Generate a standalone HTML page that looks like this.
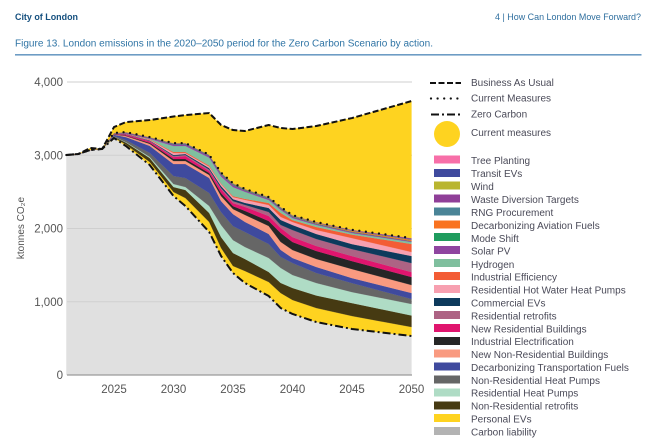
<!DOCTYPE html>
<html lang="en">
<head>
<meta charset="utf-8">
<title>Figure 13. London emissions</title>
<style>
html,body{margin:0;padding:0;background:#fff;width:645px;height:446px;overflow:hidden}
svg{display:block}
text{font-family:"Liberation Sans",sans-serif}
.lg{font-size:10px;fill:#4a4a58}
.ax{font-size:11.5px;fill:#555}
</style>
</head>
<body>
<svg id="chart" width="645" height="446" viewBox="0 0 645 446" xmlns="http://www.w3.org/2000/svg">
<rect width="645" height="446" fill="#fff"/>
<text x="15" y="20" font-size="9.5" font-weight="bold" fill="#15507f" textLength="63" lengthAdjust="spacingAndGlyphs">City of London</text>
<text x="641" y="20" font-size="9.5" fill="#2f6f9f" text-anchor="end" textLength="146" lengthAdjust="spacingAndGlyphs">4 | How Can London Move Forward?</text>
<text x="15" y="46.5" font-size="10" fill="#2f74a5" textLength="418" lengthAdjust="spacingAndGlyphs">Figure 13. London emissions in the 2020–2050 period for the Zero Carbon Scenario by action.</text>
<rect x="15" y="54" width="626.5" height="1.6" fill="#6d9cc4"/>

<g id="plot"></g>

<text transform="translate(24,228) rotate(-90)" text-anchor="middle" style="font-size:10px;fill:#555">ktonnes CO₂e</text>

<g>
<line x1="430" x2="461" y1="83" y2="83" stroke="#111" stroke-width="2" stroke-dasharray="6 2.5"/>
<text class="lg" x="471" y="86">Business As Usual</text>
<line x1="431" x2="461" y1="98.5" y2="98.5" stroke="#111" stroke-width="2.3" stroke-linecap="round" stroke-dasharray="0 6.6"/>
<text class="lg" x="471" y="101.5">Current Measures</text>
<line x1="431" x2="461" y1="114.5" y2="114.5" stroke="#111" stroke-width="2" stroke-dasharray="8 3 2 3"/>
<text class="lg" x="471" y="117.5">Zero Carbon</text>
<circle cx="447" cy="134" r="13" fill="#fed320"/>
<text class="lg" x="471" y="136">Current measures</text>

<rect x="434" y="155.5" width="26" height="8" fill="#f76fa8"/>
<text class="lg" x="471" y="164">Tree Planting</text>
<rect x="434" y="169" width="26" height="8" fill="#3f4a9e"/>
<text class="lg" x="471" y="177">Transit EVs</text>
<rect x="434" y="181.5" width="26" height="8" fill="#b9b52f"/>
<text class="lg" x="471" y="190">Wind</text>
<rect x="434" y="194.5" width="26" height="8" fill="#8f3f98"/>
<text class="lg" x="471" y="203">Waste Diversion Targets</text>
<rect x="434" y="207.5" width="26" height="8" fill="#4a8497"/>
<text class="lg" x="471" y="216">RNG Procurement</text>
<rect x="434" y="220.5" width="26" height="8" fill="#f97320"/>
<text class="lg" x="471" y="229">Decarbonizing Aviation Fuels</text>
<rect x="434" y="233" width="26" height="8" fill="#1f9c5e"/>
<text class="lg" x="471" y="242">Mode Shift</text>
<rect x="434" y="246" width="26" height="8" fill="#8f45a0"/>
<text class="lg" x="471" y="254.5">Solar PV</text>
<rect x="434" y="259" width="26" height="8" fill="#7fbf9e"/>
<text class="lg" x="471" y="268">Hydrogen</text>
<rect x="434" y="272" width="26" height="8" fill="#f35c35"/>
<text class="lg" x="471" y="280.5">Industrial Efficiency</text>
<rect x="434" y="285" width="26" height="8" fill="#f7a0b0"/>
<text class="lg" x="471" y="293.5">Residential Hot Water Heat Pumps</text>
<rect x="434" y="298" width="26" height="8" fill="#0d3a5c"/>
<text class="lg" x="471" y="306.5">Commercial EVs</text>
<rect x="434" y="311" width="26" height="8" fill="#ad6384"/>
<text class="lg" x="471" y="319.5">Residential retrofits</text>
<rect x="434" y="324" width="26" height="8" fill="#e0156e"/>
<text class="lg" x="471" y="332.5">New Residential Buildings</text>
<rect x="434" y="337" width="26" height="8" fill="#262626"/>
<text class="lg" x="471" y="345">Industrial Electrification</text>
<rect x="434" y="349.5" width="26" height="8" fill="#f99a80"/>
<text class="lg" x="471" y="358">New Non-Residential Buildings</text>
<rect x="434" y="362.5" width="26" height="8" fill="#3f4a9e"/>
<text class="lg" x="471" y="371">Decarbonizing Transportation Fuels</text>
<rect x="434" y="375.5" width="26" height="8" fill="#666"/>
<text class="lg" x="471" y="384">Non-Residential Heat Pumps</text>
<rect x="434" y="388.5" width="26" height="8" fill="#afdcc5"/>
<text class="lg" x="471" y="396.5">Residential Heat Pumps</text>
<rect x="434" y="401.5" width="26" height="8" fill="#463a12"/>
<text class="lg" x="471" y="409.5">Non-Residential retrofits</text>
<rect x="434" y="414" width="26" height="8" fill="#fed320"/>
<text class="lg" x="471" y="422.5">Personal EVs</text>
<rect x="434" y="427" width="26" height="8" fill="#b3b3b3"/>
<text class="lg" x="471" y="435.5">Carbon liability</text>
</g>
</svg>
<script>
const years = [2021,2022,2023,2024,2025,2026,2028,2030,2031,2033,2034,2035,2036,2038,2039,2040,2042,2045,2050];
const xTicks = [2025,2030,2035,2040,2045,2050];
const yTicks = [0,1000,2000,3000,4000];
const yTickLabels = ['0','1,000','2,000','3,000','4,000'];
const businessAsUsual = [3003,3017,3099,3085,3385,3453,3481,3529,3549,3576,3413,3344,3331,3413,3372,3358,3399,3508,3740];
const zeroCarbon = [3003,3017,3072,3085,3235,3126,2867,2443,2307,1952,1624,1392,1256,1078,915,833,723,628,532];
const personalEVs = [0,0,0,0,7,20,41,55,109,137,109,96,164,191,205,191,191,177,123];
const nonResRetrofits = [0,0,0,0,10,27,55,68,109,123,150,177,164,137,137,164,171,177,157];
const resHeatPumps = [0,0,0,0,3,7,14,41,41,96,164,177,164,191,205,177,171,150,157];
const nonResHeatPumps = [0,0,0,0,10,27,55,109,123,177,177,191,205,191,150,164,137,123,68];
const transportFuels = [0,0,0,0,14,41,96,164,191,205,150,164,137,137,96,68,82,68,82];
const newNonRes = [0,0,0,0,4,14,27,41,41,41,68,68,96,109,109,109,109,123,109];
const industrialElec = [0,0,0,0,3,7,14,27,27,27,41,41,55,68,123,109,109,109,109];
const newRes = [0,0,0,0,4,14,20,27,41,27,55,41,55,68,68,68,68,68,68];
const resRetrofits = [0,0,0,0,1,4,7,14,14,20,14,27,27,55,41,96,96,96,123];
const commercialEVs = [0,0,0,0,1,3,7,14,14,20,27,27,27,55,68,68,68,68,96];
const hotWater = [0,0,0,0,1,3,7,27,14,20,27,27,41,41,41,41,55,82,55];
const industrialEff = [0,0,0,0,1,3,7,14,14,14,7,14,14,27,55,27,41,48,109];
const hydrogen = [0,0,0,0,0,0,7,82,82,109,96,123,96,41,41,27,27,20,27];
const solarPV = [0,0,0,0,3,11,14,23,23,23,30,30,20,19,19,19,14,14,11];
const modeShift = [0,0,0,0,1,3,4,8,8,8,11,11,8,8,8,8,7,5,3];
const aviationFuels = [0,0,0,0,1,1,1,1,1,1,3,3,3,4,4,4,8,12,16];
const rngProcurement = [0,0,0,0,1,1,1,1,1,1,3,3,3,3,3,3,4,5,7];
const wasteDiversion = [0,0,0,0,1,1,1,3,3,3,4,4,3,3,3,3,4,7,14];
const wind = [0,0,0,0,1,1,1,1,1,1,1,1,1,1,1,1,1,1,1];
const transitEVs = [0,0,0,0,1,1,1,1,1,1,1,1,1,1,1,1,1,1,1];
const treePlanting = [0,0,0,0,1,1,1,1,1,1,1,1,1,1,1,1,1,1,1];

const stackSeries = [
  ['personal-evs', personalEVs, '#fed320'],
  ['non-residential-retrofits', nonResRetrofits, '#463a12'],
  ['residential-heat-pumps', resHeatPumps, '#afdcc5'],
  ['non-residential-heat-pumps', nonResHeatPumps, '#666666'],
  ['transportation-fuels', transportFuels, '#3f4a9e'],
  ['new-non-residential', newNonRes, '#f99a80'],
  ['industrial-electrification', industrialElec, '#262626'],
  ['new-residential', newRes, '#e0156e'],
  ['residential-retrofits', resRetrofits, '#ad6384'],
  ['commercial-evs', commercialEVs, '#0d3a5c'],
  ['hot-water', hotWater, '#f7a0b0'],
  ['industrial-efficiency', industrialEff, '#f35c35'],
  ['hydrogen', hydrogen, '#7fbf9e'],
  ['solar-pv', solarPV, '#8f45a0'],
  ['mode-shift', modeShift, '#1f9c5e'],
  ['aviation', aviationFuels, '#f97320'],
  ['rng', rngProcurement, '#4a8497'],
  ['waste-diversion', wasteDiversion, '#8f3f98'],
  ['wind', wind, '#b9b52f'],
  ['transit-evs', transitEVs, '#3f4a9e'],
  ['tree-planting', treePlanting, '#f76fa8']
];

const NS = 'http://www.w3.org/2000/svg';
const plot = document.getElementById('plot');
function xScale(yr){ return 114 + (yr - 2025) * 11.9; }
function yScale(v){ return 375 - v * 0.07325; }
function pts(vals){ return years.map(function(yr,i){ return xScale(yr).toFixed(2) + ',' + yScale(vals[i]).toFixed(2); }); }
function band(lower, upper, fill, name){
  const p = document.createElementNS(NS,'polygon');
  p.setAttribute('points', pts(upper).concat(pts(lower).reverse()).join(' '));
  p.setAttribute('fill', fill);
  p.setAttribute('stroke', fill);
  p.setAttribute('stroke-width', '0.2');
  
  
  plot.appendChild(p);
}
function seriesLine(vals, name, attrs){
  const l = document.createElementNS(NS,'polyline');
  l.setAttribute('points', pts(vals).join(' '));
  l.setAttribute('fill', 'none');
  l.setAttribute('stroke', '#111');
  l.setAttribute('stroke-linejoin', 'round');
  Object.keys(attrs).forEach(function(k){ l.setAttribute(k, attrs[k]); });
  
  
  plot.appendChild(l);
}
const zeros = years.map(function(){ return 0; });
band(zeros, zeroCarbon, '#e0e0e0', 'carbon-liability-area');
yTicks.forEach(function(t,i){
  const g = document.createElementNS(NS,'line');
  g.setAttribute('x1', 67);
  g.setAttribute('x2', 412);
  g.setAttribute('y1', yScale(t));
  g.setAttribute('y2', yScale(t));
  g.setAttribute('stroke', t === 0 ? '#9a9a9a' : '#cfcfcf');
  g.setAttribute('stroke-width', t === 0 ? 1.2 : 1);
  
  
  plot.appendChild(g);
  const tx = document.createElementNS(NS,'text');
  tx.setAttribute('x', 63);
  tx.setAttribute('y', yScale(t) + 4);
  tx.setAttribute('text-anchor', 'end');
  tx.setAttribute('class', 'ax');
  tx.textContent = yTickLabels[i];
  
  
  plot.appendChild(tx);
});
xTicks.forEach(function(t){
  const tx = document.createElementNS(NS,'text');
  tx.setAttribute('x', xScale(t));
  tx.setAttribute('y', 393);
  tx.setAttribute('text-anchor', 'middle');
  tx.setAttribute('class', 'ax');
  tx.textContent = t;
  
  
  plot.appendChild(tx);
});
let base = zeroCarbon.slice();
stackSeries.forEach(function(s){
  const top = base.map(function(v,i){ return v + s[1][i]; });
  band(base, top, s[2], 'area-' + s[0]);
  base = top;
});
const currentMeasuresTop = base;
band(currentMeasuresTop, businessAsUsual, '#fed320', 'current-measures-area');
seriesLine(businessAsUsual, 'business-as-usual-line', {'stroke-width':2,'stroke-dasharray':'6 2.5'});
seriesLine(currentMeasuresTop, 'current-measures-line', {'stroke-width':2.3,'stroke-linecap':'round','stroke-dasharray':'0 6.6'});
seriesLine(zeroCarbon, 'zero-carbon-line', {'stroke-width':2,'stroke-dasharray':'8 3 2 3'});
</script>
</body>
</html>
